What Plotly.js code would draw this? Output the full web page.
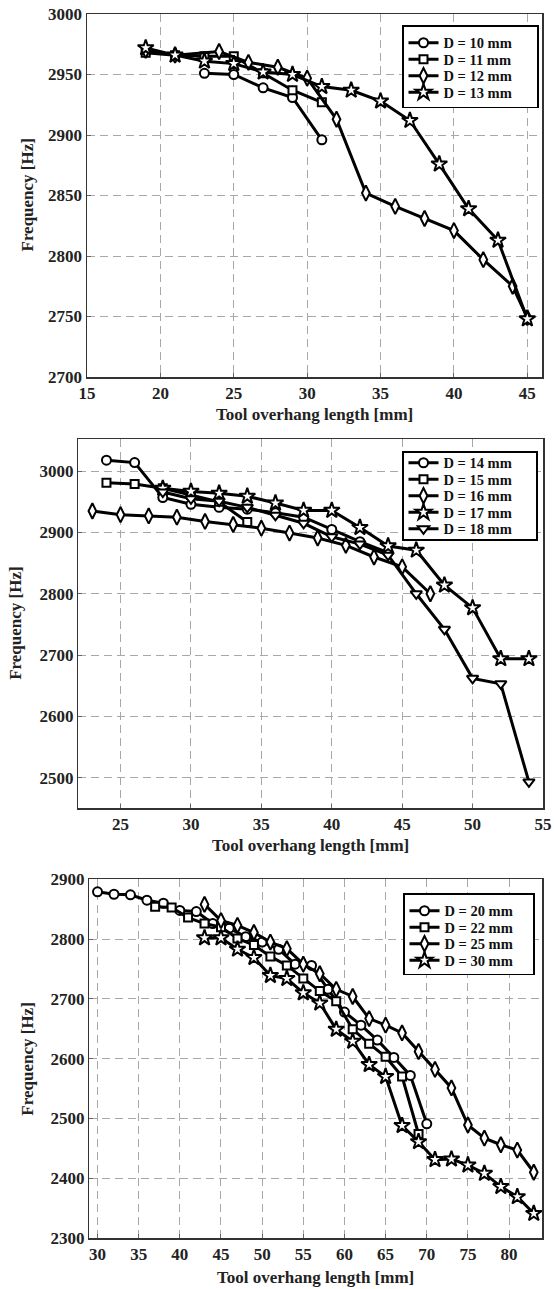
<!DOCTYPE html>
<html><head><meta charset="utf-8">
<script src="https://cdn.plot.ly/plotly-3.0.1.min.js"></script>
<style>html,body{margin:0;padding:0;background:#fff}</style>
</head><body><div id="chart" style="width:554px;height:1289px"></div>
<script>
// ---------- Panel 1 data ----------
const p1_x10 = [23,25,27,29,31];
const p1_y10 = [2951,2950,2939,2931,2896];
const p1_x11 = [19,21,23,25,27,29,31];
const p1_y11 = [2968,2966,2965,2965,2951,2937,2927];
const p1_x12 = [19,21,24,26,28,30,32,34,36,38,40,42,44,45];
const p1_y12 = [2970,2966,2969,2960,2956,2947,2913,2852,2841,2831,2821,2797,2775,2749];
const p1_x13 = [19,21,23,25,27,29,31,33,35,37,39,41,43,45];
const p1_y13 = [2972,2966,2961,2959,2952,2950,2940,2937,2928,2912,2876,2839,2813,2748];

// ---------- Panel 2 data ----------
const p2_x14 = [24,26,28,30,32,34,36,38,40,42,44];
const p2_y14 = [3018,3014,2957,2946,2941,2938,2932,2925,2905,2885,2867];
const p2_x15 = [24,26,28,30,32,34];
const p2_y15 = [2981,2979,2972,2961,2950,2917];
const p2_x16 = [23,25,27,29,31,33,35,37,39,41,43,45,47];
const p2_y16 = [2935,2929,2927,2925,2918,2913,2907,2899,2891,2879,2860,2844,2800];
const p2_x17 = [28,30,32,34,36,38,40,42,44,46,48,50,52,54];
const p2_y17 = [2972,2967,2964,2959,2948,2936,2936,2908,2878,2871,2814,2777,2694,2694];
const p2_x18 = [28,30,32,34,36,38,40,42,44,46,48,50,52,54];
const p2_y18 = [2966,2955,2951,2941,2928,2915,2893,2881,2863,2800,2742,2662,2653,2493];

// ---------- Panel 3 data ----------
const p3_x20 = [30,32,34,36,38,40,42,44,46,48,50,52,54,56,58,60,62,64,66,68,70];
const p3_y20 = [2879,2875,2874,2865,2860,2848,2846,2826,2818,2804,2795,2783,2758,2756,2716,2678,2656,2631,2602,2572,2491];
const p3_x22 = [37,39,41,43,45,47,49,51,53,55,57,59,61,63,65,67,69];
const p3_y22 = [2854,2853,2836,2826,2820,2801,2790,2771,2756,2734,2713,2696,2649,2625,2603,2570,2474];
const p3_x25 = [43,45,47,49,51,53,55,57,59,61,63,65,67,69,71,73,75,77,79,81,83];
const p3_y25 = [2858,2831,2823,2811,2795,2784,2758,2742,2716,2704,2667,2656,2643,2612,2582,2551,2489,2467,2456,2447,2410];
const p3_x30 = [43,45,47,49,51,53,55,57,59,61,63,65,67,69,71,73,75,77,79,81,83];
const p3_y30 = [2802,2802,2783,2769,2739,2734,2710,2693,2649,2629,2590,2570,2488,2461,2431,2432,2422,2408,2386,2369,2341];

const names1 = ['D = 10 mm','D = 11 mm','D = 12 mm','D = 13 mm'];
const names2 = ['D = 14 mm','D = 15 mm','D = 16 mm','D = 17 mm','D = 18 mm'];
const names3 = ['D = 20 mm','D = 22 mm','D = 25 mm','D = 30 mm'];
const xTitle = 'Tool overhang length [mm]';
const yTitle = 'Frequency [Hz]';

const FONT = '"Liberation Serif", "Times New Roman", Times, serif';
const SYM = {circle:['circle',9], square:['square',8], diamond:['diamond-tall',11], star:['star',12], tri:['triangle-down',10]};

function tr(x, y, name, s, xa, ya, leg) {
  return {
    type:'scatter', mode:'lines+markers', x:x, y:y, name:name,
    xaxis:xa, yaxis:ya, legend:leg, cliponaxis:false,
    line:{color:'#000', width:3},
    marker:{symbol:SYM[s][0], size:SYM[s][1], color:'#fff', line:{color:'#000', width:2}}
  };
}

const data = [
  tr(p1_x10,p1_y10,names1[0],'circle','x','y','legend'),
  tr(p1_x11,p1_y11,names1[1],'square','x','y','legend'),
  tr(p1_x12,p1_y12,names1[2],'diamond','x','y','legend'),
  tr(p1_x13,p1_y13,names1[3],'star','x','y','legend'),
  tr(p2_x14,p2_y14,names2[0],'circle','x2','y2','legend2'),
  tr(p2_x15,p2_y15,names2[1],'square','x2','y2','legend2'),
  tr(p2_x16,p2_y16,names2[2],'diamond','x2','y2','legend2'),
  tr(p2_x17,p2_y17,names2[3],'star','x2','y2','legend2'),
  tr(p2_x18,p2_y18,names2[4],'tri','x2','y2','legend2'),
  tr(p3_x20,p3_y20,names3[0],'circle','x3','y3','legend3'),
  tr(p3_x22,p3_y22,names3[1],'square','x3','y3','legend3'),
  tr(p3_x25,p3_y25,names3[2],'diamond','x3','y3','legend3'),
  tr(p3_x30,p3_y30,names3[3],'star','x3','y3','legend3')
];

const tfont = {family:FONT, size:17, color:'#222', weight:'bold'};
function ax(extra) {
  return Object.assign({
    showline:true, mirror:true, linecolor:'#333', linewidth:1.5,
    showgrid:true, gridcolor:'#a8a8a8', gridwidth:1, griddash:'8px,5px',
    zeroline:false, ticks:'inside', ticklen:4, tickcolor:'#666', tickwidth:1,
    tickfont:tfont, automargin:false
  }, extra);
}
function leg(x, y) {
  return {x:x, y:y, xanchor:'left', yanchor:'top', bgcolor:'#fff', bordercolor:'#000', borderwidth:1.5,
          font:{family:FONT, size:14.5, color:'#111', weight:'bold'}, itemwidth:30, tracegroupgap:0};
}

const H = 1289, W = 554;
// panel pixel boxes: [left, right, top, bottom]
const P1 = [87, 542, 14, 377], P2 = [78.3, 543, 439.3, 808.3], P3 = [89.3, 542, 879.3, 1238];
function xt(P, dy) { return {text:xTitle, xref:'paper', yref:'paper', x:(P[0]+P[1])/2/W, y:1-(P[3]+dy)/H,
  xanchor:'center', yanchor:'middle', showarrow:false, font:tfont}; }
function yt(P, xc) { return {text:yTitle, xref:'paper', yref:'paper', x:xc/W, y:1-(P[2]+P[3])/2/H,
  xanchor:'center', yanchor:'middle', textangle:-90, showarrow:false, font:tfont}; }

const layout = {
  width:W, height:H, margin:{l:0,r:0,t:0,b:0}, paper_bgcolor:'#fff', plot_bgcolor:'#fff', showlegend:true,
  xaxis: ax({domain:[P1[0]/W, P1[1]/W], range:[15,46], tick0:15, dtick:5, anchor:'y'}),
  yaxis: ax({domain:[1-P1[3]/H, 1-P1[2]/H], range:[2700,3000], tick0:2700, dtick:50, anchor:'x'}),
  xaxis2: ax({domain:[P2[0]/W, P2[1]/W], range:[22,55], tick0:25, dtick:5, anchor:'y2'}),
  yaxis2: ax({domain:[1-P2[3]/H, 1-P2[2]/H], range:[2450,3052], tick0:2500, dtick:100, anchor:'x2'}),
  xaxis3: ax({domain:[P3[0]/W, P3[1]/W], range:[29,84], tick0:30, dtick:5, anchor:'y3'}),
  yaxis3: ax({domain:[1-P3[3]/H, 1-P3[2]/H], range:[2300,2900], tick0:2300, dtick:100, anchor:'x3'}),
  annotations:[xt(P1, 37), yt(P1, 27), xt(P2, 37), yt(P2, 16), xt(P3, 39), yt(P3, 28)],
  legend: leg(402/W, 1-25/H),
  legend2: leg(402/W, 1-451/H),
  legend3: leg(403/W, 1-893/H)
};

function fixLegends() {
  const cfg = {
    legend:{sp:16.5, top:17, bot:15, w:135},
    legend2:{sp:16.5, top:11, bot:11, w:134},
    legend3:{sp:16.5, top:17, bot:14, w:130}
  };
  Object.keys(cfg).forEach(function(id) {
    const g = document.querySelector('g.infolayer > g.' + id) || document.querySelector('g.' + id);
    if (!g) return;
    const trs = g.querySelectorAll('g.traces');
    const bg = g.querySelector('rect.bg');
    if (!trs.length || !bg) return;
    const parse = function(el) {
      const m = /translate\(\s*([-\d.e]+)[ ,]+([-\d.e]+)/.exec(el.getAttribute('transform') || '');
      return m ? [+m[1], +m[2]] : null;
    };
    const c = cfg[id];
    const by = +bg.getAttribute('y') || 0;
    trs.forEach(function(t, i) {
      const p = parse(t); if (!p) return;
      t.setAttribute('transform', 'translate(' + p[0] + ',' + (by + c.top + i * c.sp) + ')');
    });
    bg.setAttribute('height', c.top + (trs.length - 1) * c.sp + c.bot);
    bg.setAttribute('width', c.w);
  });
}

Plotly.newPlot('chart', data, layout, {staticPlot:true, displayModeBar:false}).then(fixLegends);
</script>
</body></html>
